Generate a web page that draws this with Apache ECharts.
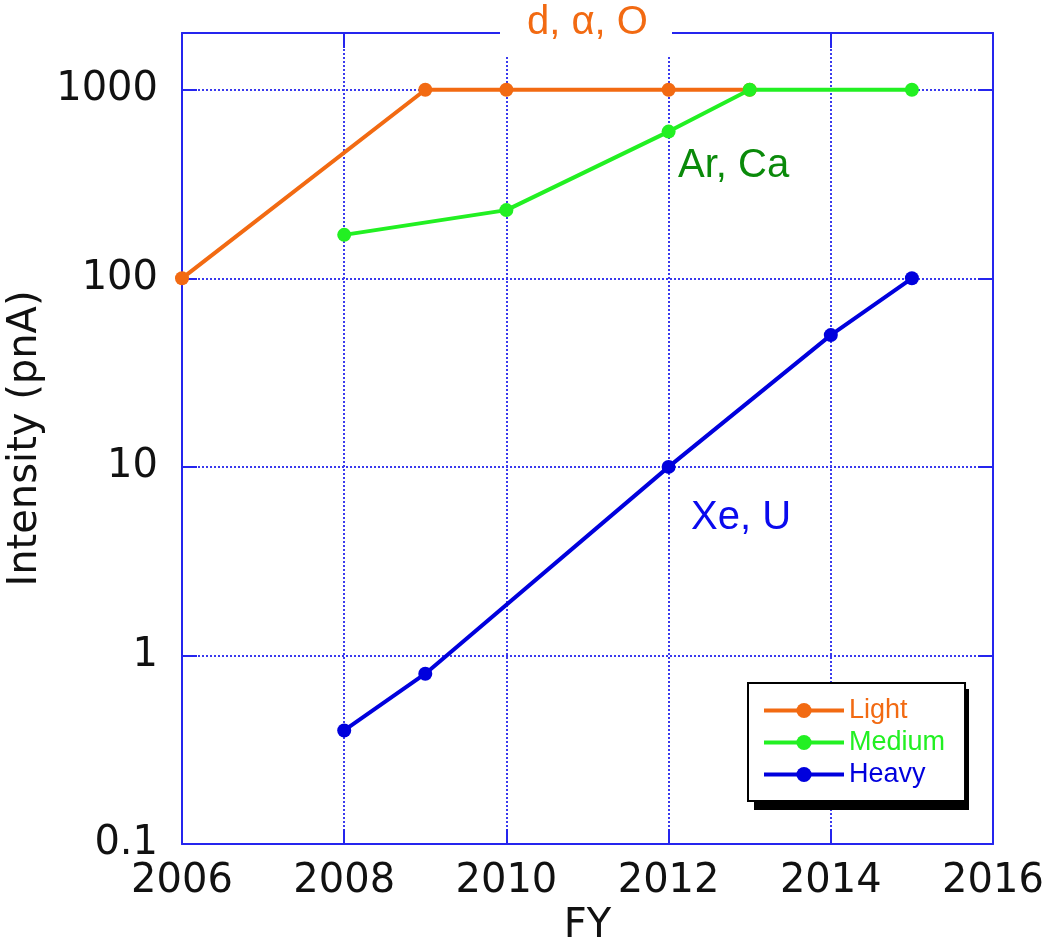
<!DOCTYPE html>
<html>
<head>
<meta charset="utf-8">
<title>Intensity (pnA)</title>
<script src="https://cdn.jsdelivr.net/npm/echarts@6/dist/echarts.min.js"></script>
<style>
  html, body { margin: 0; padding: 0; background: #fff; }
  #chart { width: 1049px; height: 947px; }
</style>
</head>
<body>
<div id="chart"></div>
<script>
// Beam intensity goals by fiscal year, log scale
const seriesNames = ['Light', 'Medium', 'Heavy'];
const lightYears = [2006, 2009, 2010, 2012, 2013];
const lightValues = [100, 1000, 1000, 1000, 1000];
const mediumYears = [2008, 2010, 2012, 2013, 2015];
const mediumValues = [170, 230, 600, 1000, 1000];
const heavyYears = [2008, 2009, 2012, 2014, 2015];
const heavyValues = [0.4, 0.8, 10, 50, 100];
const groupLabels = ['d, α, O', 'Ar, Ca', 'Xe, U'];

const colors = { light: '#f26a12', medium: '#22f022', heavy: '#0000dd' };
const frame = '#2525ee';
const grid = '#3a3aee';

function pairs(xs, ys) { return xs.map((x, i) => [x, ys[i]]); }
const plain = v => String(v);

const chart = echarts.init(document.getElementById('chart'), null, { renderer: 'canvas' });

const tickStyle = { show: true, inside: true, length: 15, lineStyle: { color: frame, width: 2 } };
const lineAxis = { show: true, onZero: false, lineStyle: { color: frame, width: 2 } };
const tickFont = { color: '#111', fontFamily: 'DejaVu Sans', fontSize: 40, formatter: plain };

function mkSeries(name, data, color) {
  return {
    name, type: 'line', data,
    symbol: 'circle', symbolSize: 14,
    itemStyle: { color },
    lineStyle: { color, width: 4 },
    emphasis: { disabled: true },
    animation: false
  };
}

chart.setOption({
  animation: false,
  backgroundColor: '#fff',
  grid: { left: 182, right: 56, top: 33, bottom: 103, containLabel: false, outerBoundsMode: 'none' },
  xAxis: [
    {
      type: 'value', min: 2006, max: 2016, interval: 2,
      name: 'FY', nameLocation: 'middle', nameGap: 60,
      nameTextStyle: { color: '#111', fontFamily: 'DejaVu Sans', fontSize: 40 },
      axisLine: lineAxis, axisTick: tickStyle,
      axisLabel: Object.assign({ margin: 18 }, tickFont),
      splitLine: { show: true, lineStyle: { color: grid, width: 2, type: [2, 2] } }
    },
    {
      type: 'value', position: 'top', min: 2006, max: 2016, interval: 2,
      axisLine: lineAxis, axisTick: tickStyle,
      axisLabel: { show: false }, splitLine: { show: false }
    }
  ],
  yAxis: [
    {
      type: 'log', logBase: 10, min: 0.1, max: 2000,
      name: 'Intensity (pnA)', nameLocation: 'middle', nameGap: 132, nameRotate: 90,
      nameTextStyle: { color: '#111', fontFamily: 'DejaVu Sans', fontSize: 40 },
      axisLine: lineAxis, axisTick: tickStyle,
      axisLabel: Object.assign({ margin: 24, showMaxLabel: false }, tickFont),
      splitLine: { show: true, lineStyle: { color: grid, width: 2, type: [2, 2] } },
      minorTick: { show: false }
    },
    {
      type: 'log', logBase: 10, min: 0.1, max: 2000, position: 'right',
      axisLine: lineAxis, axisTick: tickStyle,
      axisLabel: { show: false }, splitLine: { show: false }
    }
  ],
  legend: {
    orient: 'vertical',
    left: 748, top: 683, z: 10,
    padding: [14, 20, 13, 14],
    itemWidth: 80, itemHeight: 19, itemGap: 5,
    backgroundColor: '#fff',
    borderColor: '#000', borderWidth: 2,
    lineStyle: { width: 4 },
    textStyle: { fontFamily: 'Liberation Sans', fontSize: 27, lineHeight: 26 },
    data: [
      { name: seriesNames[0], textStyle: { color: colors.light } },
      { name: seriesNames[1], textStyle: { color: colors.medium } },
      { name: seriesNames[2], textStyle: { color: colors.heavy } }
    ],
    selectedMode: false
  },
  series: [
    mkSeries(seriesNames[0], pairs(lightYears, lightValues), colors.light),
    mkSeries(seriesNames[1], pairs(mediumYears, mediumValues), colors.medium),
    mkSeries(seriesNames[2], pairs(heavyYears, heavyValues), colors.heavy)
  ],
  graphic: [
    // drop shadow behind the legend box
    {
      type: 'rect', z: 9, left: 754, top: 689,
      shape: { width: 215, height: 121 },
      style: { fill: '#000' }
    },
    {
      type: 'rect', z: 100, left: 500, top: 0,
      shape: { width: 172, height: 56 },
      style: { fill: '#fff' }
    },
    {
      type: 'text', z: 101, left: 527, top: 3,
      style: { text: groupLabels[0], fill: colors.light, font: '40px "Liberation Sans"' }
    },
    {
      type: 'text', z: 101, left: 678, top: 146,
      style: { text: groupLabels[1], fill: '#0a8a0a', font: '40px "Liberation Sans"' }
    },
    {
      type: 'text', z: 101, left: 691, top: 498,
      style: { text: groupLabels[2], fill: '#0a0aee', font: '40px "Liberation Sans"' }
    }
  ]
});
</script>
</body>
</html>
